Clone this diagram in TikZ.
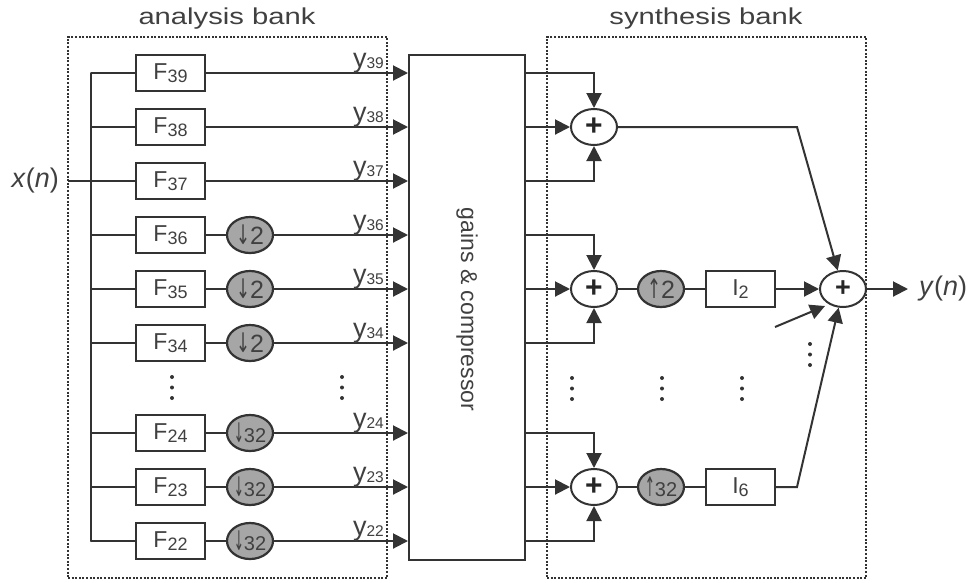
\documentclass[tikz,border=0pt]{standalone}
\usepackage{fontspec}
\setmainfont{Liberation Sans}
\newfontfamily\arrowfont{DejaVu Sans}
\usetikzlibrary{arrows.meta}
\usetikzlibrary{shapes.geometric}
\newcommand{\lab}[2]{#1\raisebox{-3pt}{\fontsize{18}{18}\selectfont #2}}
\newcommand{\ylab}[2]{\fontsize{27}{27}\selectfont #1\raisebox{-1pt}{\fontsize{15.5}{16}\selectfont #2}}
\newcommand{\wide}[1]{\scalebox{1.27}[1]{#1}}
\newcommand{\bigfont}{\fontsize{23}{25}\selectfont}
\newcommand{\ratetwo}[1]{\scalebox{0.62}[1]{\arrowfont\fontsize{27}{27}\selectfont #1}{\fontsize{25}{25}\selectfont 2}}
\newcommand{\ratethree}[1]{\scalebox{0.45}[1]{\arrowfont\fontsize{27}{27}\selectfont #1}{\fontsize{20}{20}\selectfont 32}}
\colorlet{linecol}{black!80}
\colorlet{textcol}{black!75}
\tikzset{
  filterbox/.style={draw=linecol,line width=2pt,fill=white,text=textcol,minimum width=69pt,minimum height=36pt,inner sep=0pt,font=\bigfont},
  ratenode/.style={ellipse,draw=linecol,line width=2.2pt,fill=black!35,text=textcol,minimum width=46pt,minimum height=36pt,inner sep=0pt},
  sumnode/.style={ellipse,draw=linecol,line width=2pt,fill=white,text=black!85,minimum width=46pt,minimum height=36pt,inner sep=0pt,font=\bfseries\fontsize{30}{30}\selectfont},
  bankbox/.style={draw=linecol,line width=1.6pt,dash pattern=on 2pt off 1.6pt,minimum width=319pt,minimum height=541pt,inner sep=0pt},
  wire/.style={draw=linecol,line width=2pt},
  dotdot/.style={fill=black!80,inner sep=0pt,minimum size=4pt,circle}
}
\begin{document}
\begin{tikzpicture}[line cap=butt,line join=miter,>={Triangle[length=15pt,width=15pt]},x=1pt,y=-1pt]
\useasboundingbox (0,0) rectangle (969,582);
%pankit
\node [bankbox] (analysis) at (227.5,307.5) {};
\node [bankbox] (synthesis) at (706.5,307.5) {};
\node [text=textcol,font=\bigfont] (antitle) at (227,19) {\wide{analysis bank}};
\node [text=textcol,font=\bigfont] (syntitle) at (706,19) {\wide{synthesis bank}};
\node [draw=linecol,line width=2pt,minimum width=116pt,minimum height=505pt,inner sep=0pt] (gains) at (467,307.5) {};
\node [rotate=-90,text=textcol,font=\fontsize{23}{25}\selectfont] (gainstext) at (467,309.5) {gains \& compressor};

%analyysi
\coordinate (bustop) at (91,73);
\coordinate (busbot) at (91,541);
\draw [wire,line cap=round] (bustop)--(busbot);
\foreach \n/\y in {39/73,38/127,37/181}
{
\node [filterbox] (F\n) at (170.5,\y) {\lab{F}{\n}};
\draw [wire] (91,\y)--(F\n);
\draw [wire,->] (F\n)--(F\n -| gains.west);
\node [anchor=base east,inner sep=0pt,text=textcol] (y\n) at (384,\y-6) {\ylab{y}{\n}};
}
\foreach \n/\y in {36/235,35/289,34/343}
{
\node [filterbox] (F\n) at (170.5,\y) {\lab{F}{\n}};
\node [ratenode] (down\n) at (250,\y) {\ratetwo{↓}};
\draw [wire] (91,\y)--(F\n);
\draw [wire] (F\n)--(down\n);
\draw [wire,->] (down\n)--(down\n -| gains.west);
\node [anchor=base east,inner sep=0pt,text=textcol] (y\n) at (384,\y-6) {\ylab{y}{\n}};
}
\foreach \n/\y in {24/433,23/487,22/541}
{
\node [filterbox] (F\n) at (170.5,\y) {\lab{F}{\n}};
\node [ratenode] (down\n) at (250,\y) {\ratethree{↓}};
\draw [wire] (91,\y)--(F\n);
\draw [wire] (F\n)--(down\n);
\draw [wire,->] (down\n)--(down\n -| gains.west);
\node [anchor=base east,inner sep=0pt,text=textcol] (y\n) at (384,\y-6) {\ylab{y}{\n}};
}
\coordinate (xstart) at (68,181);
\node [anchor=east,inner sep=0pt,text=textcol,font=\fontsize{27}{27}\selectfont] (xin) at (59,181) {\textit{x}(\textit{n})};
\draw [wire] (xstart)--(F37);

%synteesi
\foreach \s/\y/\a/\b in {A/127/73/181,B/289/235/343,C/487/433/541}
{
\node [sumnode] (sum\s) at (594,\y) {+};
\draw [wire,->] (sum\s -| gains.east)--(sum\s);
\coordinate (up\s) at (594,\a);
\coordinate (low\s) at (594,\b);
\draw [wire,->] (up\s -| gains.east)--(up\s)--(sum\s);
\draw [wire,->] (low\s -| gains.east)--(low\s)--(sum\s);
}
\node [ratenode] (rateB) at (661,289) {\ratetwo{↑}};
\node [ratenode] (rateC) at (661,487) {\ratethree{↑}};
\node [filterbox] (I2) at (740.5,289) {\lab{I}{2}};
\node [filterbox] (I6) at (740.5,487) {\lab{I}{6}};
\draw [wire] (sumB)--(rateB);
\draw [wire] (rateB)--(I2);
\draw [wire] (sumC)--(rateC);
\draw [wire] (rateC)--(I6);

%loppusumma
\node [sumnode,font=\bfseries\fontsize{27}{27}\selectfont] (sumout) at (843,289) {+};
\node [anchor=west,inner sep=0pt,text=textcol,font=\fontsize{27}{27}\selectfont] (yout) at (919,289) {\textit{y}(\textit{n})};
\coordinate (kneeA) at (797,127);
\coordinate (kneeC) at (797,487);
\coordinate (stray) at (775,327);
\coordinate (straytip) at (825,306);
\draw [wire,->] (sumA)--(kneeA)--(sumout);
\draw [wire,->] (I2)--(sumout);
\draw [wire,->] (I6)--(kneeC)--(sumout);
\draw [wire,->] (stray)--(straytip);
\draw [wire,->] (sumout)--(908,289);

%pisteet
\foreach \x/\y in {172/377,342/377,572/378,662/378,742/378,810/344}
{
\foreach \k in {0,1,2}
{
\node [dotdot] at (\x,\y+10.5*\k) {};
}
}
\end{tikzpicture}
\end{document}
